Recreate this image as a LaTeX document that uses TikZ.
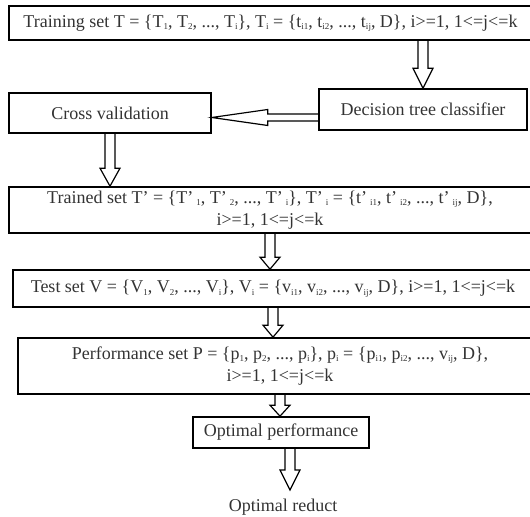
\documentclass[tikz,border=0pt]{standalone}
\usepackage{fontspec}
\setmainfont{Liberation Serif}
\usetikzlibrary{calc}

\tikzset{
	box/.style={draw=black, line width=0.8pt, inner sep=0pt, text=black!80, align=center, font=\fontsize{9}{11}\selectfont},
	blockarrow/.style={draw=black, line width=0.6pt, line join=miter}
}

% tiny subscript
\newcommand\ssub[1]{\raisebox{-0.3ex}{\fontsize{4.5}{5}\selectfont #1}}
% hollow arrow downwards: [head length]{from}{to}
\newcommand\blockdown[3][9pt]{%
	\draw[blockarrow] let \p1=(#2), \p2=(#3) in
		(\x1-2.5pt,\y1) -- (\x1-2.5pt,\y2+#1) -- (\x1-5pt,\y2+#1) -- (\x1,\y2)
		-- (\x1+5pt,\y2+#1) -- (\x1+2.5pt,\y2+#1) -- (\x1+2.5pt,\y1);}
% hollow arrow to the left: [head length]{from}{to}
\newcommand\blockleft[3][28pt]{%
	\draw[blockarrow] let \p1=(#2), \p2=(#3) in
		(\x1,\y1+1.75pt) -- (\x2+#1,\y1+1.75pt) -- (\x2+#1,\y1+4pt) -- (\x2,\y1)
		-- (\x2+#1,\y1-4pt) -- (\x2+#1,\y1-1.75pt) -- (\x1,\y1-1.75pt);}

\begin{document}
\begin{tikzpicture}[x=0.5pt, y=-0.5pt]
	\useasboundingbox (0,0) rectangle (530,517);

	\node[box, minimum width=261.5pt, minimum height=17pt] (train) at (270.5,23)
		{Training set T = \{T\ssub{1}, T\ssub{2}, ..., T\ssub{i}\}, T\ssub{i} = \{t\ssub{i1}, t\ssub{i2}, ..., t\ssub{ij}, D\}, i>=1, 1<=j<=k};
	\node[box, minimum width=104pt, minimum height=20.5pt] (dtc) at (423,109.5) {Decision tree classifier};
	\node[box, minimum width=101pt, minimum height=20pt] (cross) at (110,113) {Cross validation};
	\node[box, minimum width=261pt, minimum height=23pt] (trained) at (270,210)
		{Trained set T’ = \{T’\,\ssub{1}, T’\,\ssub{2}, ..., T’\,\ssub{i}\}, T’\,\ssub{i} = \{t’\,\ssub{i1}, t’\,\ssub{i2}, ..., t’\,\ssub{ij}, D\},\\ i>=1, 1<=j<=k};
	\node[box, minimum width=260pt, minimum height=18.5pt] (test) at (273,288.5)
		{Test set V = \{V\ssub{1}, V\ssub{2}, ..., V\ssub{i}\}, V\ssub{i} = \{v\ssub{i1}, v\ssub{i2}, ..., v\ssub{ij}, D\}, i>=1, 1<=j<=k};
	\node[box, minimum width=262pt, minimum height=28pt] (perf) at (280,366)
		{Performance set P = \{p\ssub{1}, p\ssub{2}, ..., p\ssub{i}\}, p\ssub{i} = \{p\ssub{i1}, p\ssub{i2}, ..., v\ssub{ij}, D\},\\ i>=1, 1<=j<=k};
	\node[box, minimum width=88pt, minimum height=15.5pt] (opt) at (281,432.5) {Optimal performance};
	\node[box, draw=none, inner sep=4pt] (reduct) at (283,507) {Optimal reduct};
	\coordinate (optout) at ([xshift=4.5pt]opt.south);

	\blockdown[10pt]{train.south -| dtc.north}{dtc.north}
	\blockleft{[yshift=-4pt]dtc.west}{cross.east}
	\blockdown{cross.south}{trained.north -| cross.south}
	\blockdown[6pt]{trained.south}{test.north -| trained.south}
	\blockdown[6pt]{test.south}{perf.north -| test.south}
	\blockdown[5.5pt]{perf.south}{opt.north -| perf.south}
	\blockdown[10pt]{optout}{reduct.north -| optout}
\end{tikzpicture}
\end{document}
